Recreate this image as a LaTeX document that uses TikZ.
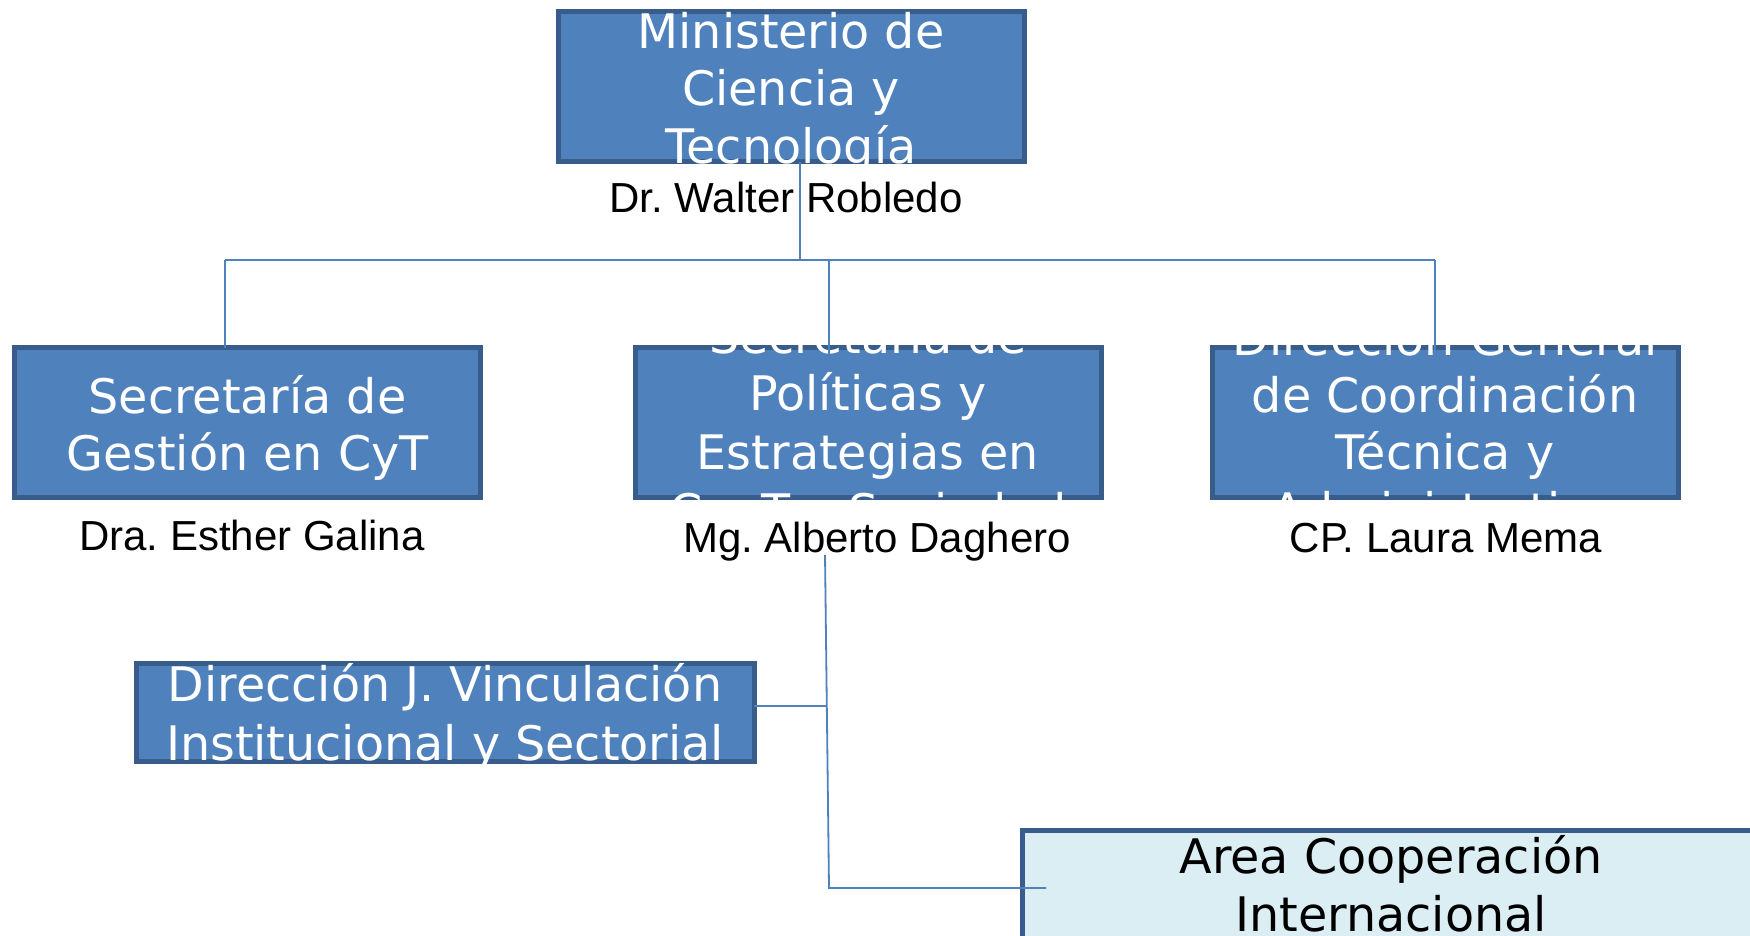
\documentclass[tikz,border=0pt]{standalone}
\usepackage{fontspec}
\newfontfamily\boxfont{DejaVu Sans}
\newfontfamily\namefont{Liberation Sans}
\definecolor{boxfill}{HTML}{4F81BD}
\definecolor{boxline}{HTML}{385D8A}
\definecolor{lightfill}{HTML}{DBEEF4}
\definecolor{connblue}{HTML}{4F81BD}
\newcommand{\sL}{\rule[-9pt]{0pt}{57pt}}
\frenchspacing
\begin{document}
\begin{tikzpicture}[x=1pt,y=-1pt,
  orgbox/.style={draw=boxline, line width=5pt, fill=boxfill, rectangle, inner sep=0pt, outer sep=0pt},
  boxtxt/.style={font=\boxfont\fontsize{47.6}{57}\selectfont, text=white, align=center, inner sep=0pt},
  nametxt/.style={font=\namefont\fontsize{42}{50}\selectfont, text=black, anchor=base, inner sep=0pt},
  conn/.style={draw=connblue, line width=1.8pt}]
\fill[white] (0,0) rectangle (1750,936);
\path[use as bounding box] (0,0) rectangle (1750,936);

% boxes
\node[orgbox, minimum width=466pt, minimum height=150pt] (m) at (791,87) {};
\node[orgbox, minimum width=466pt, minimum height=150pt] (b1) at (247.5,422.5) {};
\node[orgbox, minimum width=466pt, minimum height=150pt] (b2) at (868,422) {};
\node[orgbox, minimum width=466pt, minimum height=150pt] (b3) at (1445,422) {};
\node[orgbox, minimum width=618pt, minimum height=98pt] (b4) at (445,712) {};
\node[orgbox, fill=lightfill, minimum width=738pt, minimum height=110pt] (b5) at (1391,885) {};

% box texts (clipped to boxes)
\begin{scope}
  \clip ([shift={(-2,2)}]m.south west) rectangle ([shift={(2,-2)}]m.north east);
  \node[boxtxt] (tm) at (m) {\sL Ministerio de\\\sL Ciencia y\\\sL Tecnología};
\end{scope}
\begin{scope}
  \clip ([shift={(-2,2)}]b1.south west) rectangle ([shift={(2,-2)}]b1.north east);
  \node[boxtxt] (t1) at (b1) {\sL Secretaría de\\\sL Gestión en CyT};
\end{scope}
\begin{scope}
  \clip ([shift={(-2,2)}]b2.south west) rectangle ([shift={(2,-2)}]b2.north east);
  \node[boxtxt] (t2) at (b2) {\sL Secretaría de\\\sL Políticas y\\\sL Estrategias en\\\sL C y T y Sociedad};
\end{scope}
\begin{scope}
  \clip ([shift={(-2,2)}]b3.south west) rectangle ([shift={(2,-2)}]b3.north east);
  \node[boxtxt] (t3) at (b3) {\sL Dirección General\\\sL de Coordinación\\\sL Técnica y\\\sL Administrativa};
\end{scope}
\begin{scope}
  \clip ([shift={(-2,2)}]b4.south west) rectangle ([shift={(2,-2)}]b4.north east);
  \node[boxtxt] (t4) at (b4) {\sL Dirección J. Vinculación\\\sL Institucional y Sectorial};
\end{scope}
\node[boxtxt, text=black] (t5) at (1391,883) {\sL Area Cooperación\\\sL Internacional};

% names
\node[nametxt] (n0) at (786,212) {Dr. Walter Robledo};
\node[nametxt] (n1) at (252,550) {Dra. Esther Galina};
\node[nametxt] (n2) at (877,552) {Mg. Alberto Daghero};
\node[nametxt] (n3) at (1446,552) {CP. Laura Mema};

% connectors
\coordinate (jm) at (800,260);
\coordinate (busL) at (225,260);
\coordinate (busR) at (1435,260);
\coordinate (j2) at (829,260);
\coordinate (e2) at (829,368);
\coordinate (e3) at (1435,368);
\draw[conn] (jm |- m.south) -- (jm);
\draw[conn] (busL) -- (busR);
\draw[conn] (busL) -- (busL |- b1.north);
\draw[conn] (j2) -- (e2);
\draw[conn] (busR) -- (e3);

\coordinate (v1) at (825,555);
\coordinate (v2) at (829,888);
\coordinate (v3) at (1046,888);
\coordinate (h4) at (827,706);
\draw[conn] (v1) -- (v2) -- (v3);
\draw[conn] (h4 -| b4.east) -- (h4);
\end{tikzpicture}
\end{document}
